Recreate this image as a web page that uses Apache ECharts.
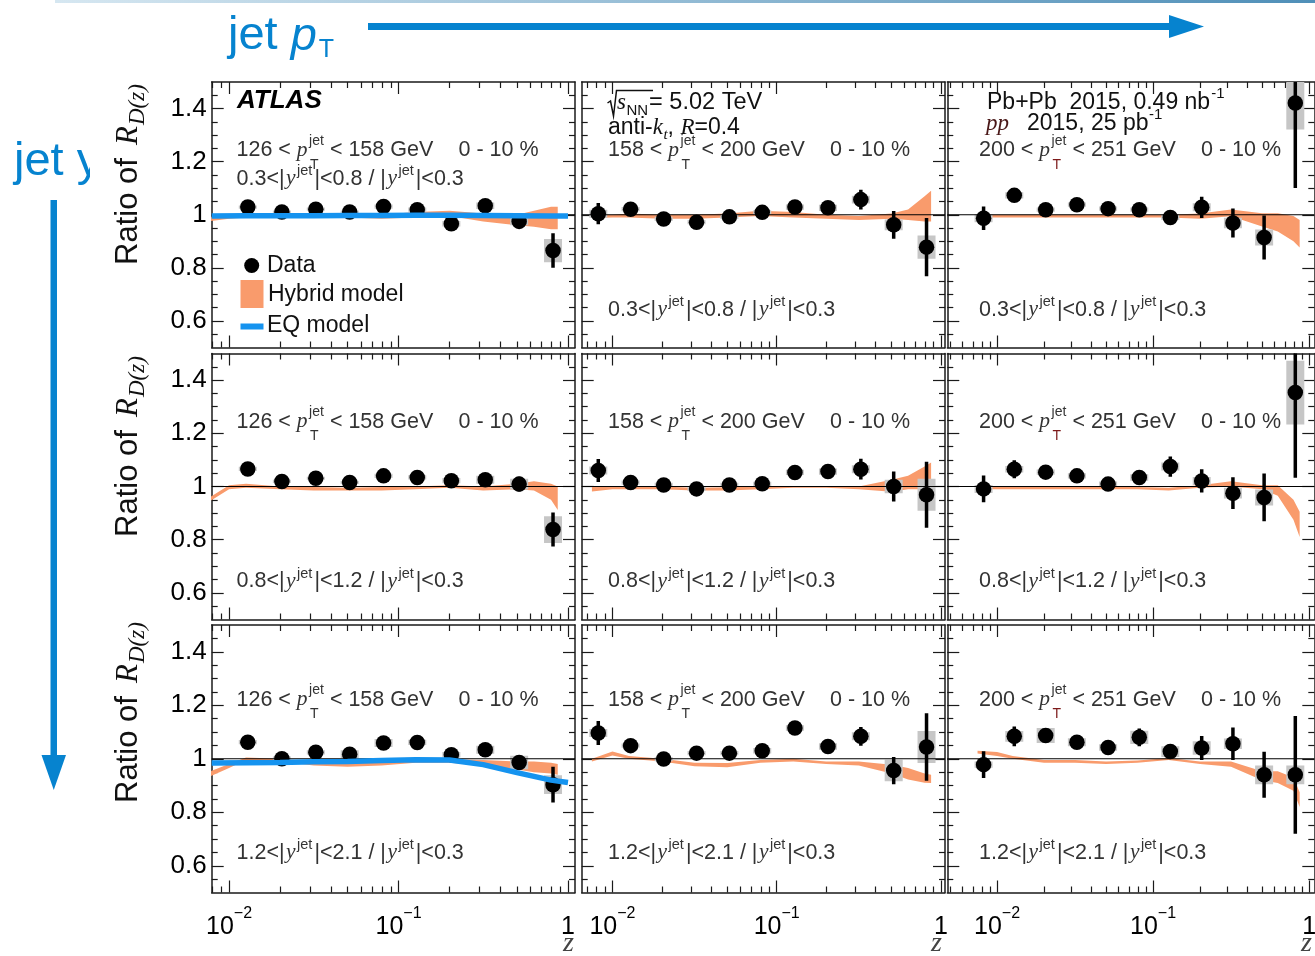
<!DOCTYPE html>
<html>
<head>
<meta charset="utf-8">
<script src="https://cdn.jsdelivr.net/npm/echarts@6/dist/echarts.min.js"></script>
<style>
  html, body { margin: 0; padding: 0; background: #fff; }
  #chart { width: 1315px; height: 956px; }
</style>
</head>
<body>
<div id="chart"></div>
<script>
// ---- z binning -------------------------------------------------------------
const zCenters = [0.0082, 0.0129, 0.0205, 0.0325, 0.0515, 0.0816, 0.129, 0.205, 0.325, 0.515, 0.816];
const zHybrid  = [0.0075, 0.01, 0.0126, 0.02, 0.0316, 0.05, 0.0794, 0.126, 0.2, 0.316, 0.5, 0.63, 0.794, 0.87];
const zEq      = [0.0079, 0.0126, 0.02, 0.0316, 0.05, 0.0794, 0.126, 0.2, 0.316, 0.5, 0.794, 1.0];

const ptBins = [['126', '158'], ['158', '200'], ['200', '251']];
const yBins = [['0.3', '0.8'], ['0.8', '1.2'], ['1.2', '2.1']];
const centrality = '0 - 10 %';
const zTicks = [0.01, 0.1, 1];
const yTicks = [0.6, 0.8, 1, 1.2, 1.4];
const yMinorTicks = [0.55, 0.65, 0.7, 0.75, 0.85, 0.9, 0.95, 1.05, 1.1, 1.15, 1.25, 1.3, 1.35, 1.45];

// ---- 0.3<|y|<0.8 / |y|<0.3 ------------------------------------------------
const ratio_p126_y03 = [null, 1.029, 1.010, 1.021, 1.010, 1.031, 1.019, 0.966, 1.034, 0.975, 0.865];
const stat_p126_y03  = [null, 0.008, 0.008, 0.008, 0.008, 0.008, 0.010, 0.010, 0.012, 0.015, 0.065];
const sys_p126_y03   = [null, 0.006, 0.006, 0.006, 0.006, 0.008, 0.008, 0.010, 0.012, 0.015, 0.044];
const hybLo_p126_y03 = [0.975, 0.985, 0.990, 0.990, 0.990, 0.990, 0.985, 0.990, 0.995, 0.975, 0.960, 0.955, 0.945, 0.945];
const hybHi_p126_y03 = [0.990, 0.997, 1.000, 1.000, 1.005, 1.000, 1.000, 1.010, 1.015, 1.005, 1.000, 1.015, 1.030, 1.030];
const eq_p126_y03    = [0.995, 0.996, 0.996, 0.996, 0.997, 0.997, 0.998, 0.998, 0.997, 0.996, 0.995, 0.995];

const ratio_p158_y03 = [1.004, 1.021, 0.984, 0.972, 0.992, 1.009, 1.029, 1.026, 1.057, 0.962, 0.878];
const stat_p158_y03  = [0.040, 0.012, 0.010, 0.010, 0.010, 0.010, 0.012, 0.015, 0.037, 0.052, 0.110];
const sys_p158_y03   = [0.015, 0.008, 0.008, 0.008, 0.008, 0.008, 0.010, 0.012, 0.015, 0.020, 0.044];
const hybLo_p158_y03 = [0.988, 0.990, 0.990, 0.985, 0.985, 0.990, 0.995, 0.990, 0.985, 0.980, 0.985, 0.980, 0.975, 0.975];
const hybHi_p158_y03 = [1.000, 1.000, 1.005, 1.000, 1.000, 1.005, 1.015, 1.010, 1.000, 0.995, 1.005, 1.020, 1.070, 1.090];

const ratio_p200_y03 = [0.987, 1.073, 1.019, 1.038, 1.023, 1.019, 0.990, 1.028, 0.969, 0.914, 1.421];
const stat_p200_y03  = [0.044, 0.025, 0.012, 0.012, 0.012, 0.012, 0.015, 0.040, 0.055, 0.083, 0.320];
const sys_p200_y03   = [0.015, 0.012, 0.008, 0.008, 0.008, 0.008, 0.010, 0.015, 0.020, 0.030, 0.100];
const hybLo_p200_y03 = [0.990, 0.990, 0.990, 0.990, 0.990, 0.990, 0.990, 0.990, 0.985, 0.994, 0.956, 0.937, 0.900, 0.877];
const hybHi_p200_y03 = [1.000, 1.000, 1.000, 1.000, 1.000, 1.000, 1.000, 1.000, 1.005, 1.020, 1.006, 1.006, 0.995, 0.980];

// ---- 0.8<|y|<1.2 / |y|<0.3 ------------------------------------------------
const ratio_p126_y08 = [null, 1.066, 1.019, 1.031, 1.015, 1.040, 1.034, 1.022, 1.025, 1.009, 0.838];
const stat_p126_y08  = [null, 0.010, 0.008, 0.008, 0.008, 0.008, 0.010, 0.010, 0.012, 0.028, 0.064];
const sys_p126_y08   = [null, 0.008, 0.006, 0.006, 0.006, 0.008, 0.008, 0.010, 0.015, 0.020, 0.050];
const hybLo_p126_y08 = [0.940, 0.990, 0.995, 0.990, 0.985, 0.985, 0.985, 0.990, 0.995, 0.985, 0.990, 0.985, 0.950, 0.912];
const hybHi_p126_y08 = [0.955, 1.005, 1.010, 1.000, 0.998, 0.995, 0.998, 1.000, 1.005, 1.000, 1.010, 1.020, 1.010, 1.000];

const ratio_p158_y08 = [1.060, 1.015, 1.006, 0.991, 1.006, 1.010, 1.053, 1.056, 1.065, 1.000, 0.969];
const stat_p158_y08  = [0.043, 0.012, 0.010, 0.010, 0.010, 0.010, 0.012, 0.015, 0.039, 0.056, 0.124];
const sys_p158_y08   = [0.015, 0.008, 0.008, 0.008, 0.008, 0.008, 0.010, 0.012, 0.015, 0.025, 0.060];
const hybLo_p158_y08 = [0.981, 0.990, 0.990, 0.990, 0.985, 0.985, 0.990, 0.995, 0.995, 0.990, 0.980, 0.990, 0.990, 0.990];
const hybHi_p158_y08 = [1.000, 1.000, 1.000, 1.000, 0.995, 0.997, 1.000, 1.002, 1.002, 1.000, 1.025, 1.040, 1.075, 1.090];

const ratio_p200_y08 = [0.991, 1.065, 1.054, 1.040, 1.009, 1.034, 1.075, 1.021, 0.975, 0.959, 1.353];
const stat_p200_y08  = [0.050, 0.034, 0.015, 0.015, 0.015, 0.025, 0.038, 0.044, 0.060, 0.090, 0.320];
const sys_p200_y08   = [0.015, 0.012, 0.010, 0.010, 0.010, 0.012, 0.015, 0.015, 0.020, 0.030, 0.120];
const hybLo_p200_y08 = [0.990, 0.990, 0.990, 0.990, 0.990, 0.990, 0.990, 0.985, 0.995, 1.000, 0.990, 0.965, 0.875, 0.810];
const hybHi_p200_y08 = [1.000, 1.000, 1.000, 1.000, 1.000, 1.000, 0.998, 0.995, 1.005, 1.020, 1.005, 1.005, 0.950, 0.905];

// ---- 1.2<|y|<2.1 / |y|<0.3 ------------------------------------------------
const ratio_p126_y12 = [null, 1.062, 1.000, 1.024, 1.017, 1.059, 1.061, 1.015, 1.034, 0.986, 0.903];
const stat_p126_y12  = [null, 0.010, 0.008, 0.008, 0.008, 0.008, 0.010, 0.010, 0.012, 0.015, 0.067];
const sys_p126_y12   = [null, 0.008, 0.008, 0.008, 0.015, 0.015, 0.010, 0.010, 0.015, 0.025, 0.035];
const hybLo_p126_y12 = [0.930, 0.965, 0.995, 0.990, 0.975, 0.970, 0.975, 0.985, 0.985, 0.975, 0.960, 0.950, 0.945, 0.940];
const hybHi_p126_y12 = [0.950, 0.980, 1.005, 1.000, 0.990, 0.985, 0.990, 0.995, 0.997, 0.995, 0.990, 0.990, 0.985, 0.980];
const eq_p126_y12    = [0.984, 0.985, 0.986, 0.989, 0.990, 0.993, 0.996, 0.995, 0.978, 0.948, 0.920, 0.911];

const ratio_p158_y12 = [1.096, 1.049, 0.999, 1.021, 1.021, 1.030, 1.115, 1.046, 1.084, 0.956, 1.044];
const stat_p158_y12  = [0.045, 0.012, 0.010, 0.010, 0.010, 0.010, 0.015, 0.015, 0.035, 0.051, 0.126];
const sys_p158_y12   = [0.015, 0.008, 0.008, 0.008, 0.008, 0.010, 0.010, 0.012, 0.015, 0.040, 0.060];
const hybLo_p158_y12 = [0.990, 1.012, 1.000, 0.990, 0.972, 0.968, 0.985, 0.990, 0.980, 0.975, 0.945, 0.922, 0.910, 0.909];
const hybHi_p158_y12 = [1.000, 1.027, 1.010, 1.000, 0.985, 0.984, 0.995, 1.000, 0.990, 0.990, 0.978, 0.965, 0.945, 0.940];

const ratio_p200_y12 = [0.978, 1.084, 1.087, 1.062, 1.042, 1.080, 1.027, 1.040, 1.056, 0.940, 0.940];
const stat_p200_y12  = [0.050, 0.037, 0.015, 0.015, 0.015, 0.033, 0.028, 0.045, 0.061, 0.086, 0.220];
const sys_p200_y12   = [0.012, 0.020, 0.028, 0.015, 0.012, 0.025, 0.020, 0.025, 0.020, 0.035, 0.035];
const hybLo_p200_y12 = [1.020, 1.010, 1.000, 0.985, 0.985, 0.980, 0.985, 0.995, 0.980, 0.970, 0.920, 0.909, 0.880, 0.820];
const hybHi_p200_y12 = [1.030, 1.025, 1.010, 0.995, 0.995, 0.990, 0.993, 1.003, 0.990, 0.990, 0.953, 0.953, 0.930, 0.875];

// ---- panel table (row = rapidity bin, col = pT bin) -------------------------
const panels = [
  { r: 0, c: 0, ratio: ratio_p126_y03, stat: stat_p126_y03, sys: sys_p126_y03, lo: hybLo_p126_y03, hi: hybHi_p126_y03, eq: eq_p126_y03 },
  { r: 0, c: 1, ratio: ratio_p158_y03, stat: stat_p158_y03, sys: sys_p158_y03, lo: hybLo_p158_y03, hi: hybHi_p158_y03 },
  { r: 0, c: 2, ratio: ratio_p200_y03, stat: stat_p200_y03, sys: sys_p200_y03, lo: hybLo_p200_y03, hi: hybHi_p200_y03 },
  { r: 1, c: 0, ratio: ratio_p126_y08, stat: stat_p126_y08, sys: sys_p126_y08, lo: hybLo_p126_y08, hi: hybHi_p126_y08 },
  { r: 1, c: 1, ratio: ratio_p158_y08, stat: stat_p158_y08, sys: sys_p158_y08, lo: hybLo_p158_y08, hi: hybHi_p158_y08 },
  { r: 1, c: 2, ratio: ratio_p200_y08, stat: stat_p200_y08, sys: sys_p200_y08, lo: hybLo_p200_y08, hi: hybHi_p200_y08 },
  { r: 2, c: 0, ratio: ratio_p126_y12, stat: stat_p126_y12, sys: sys_p126_y12, lo: hybLo_p126_y12, hi: hybHi_p126_y12, eq: eq_p126_y12 },
  { r: 2, c: 1, ratio: ratio_p158_y12, stat: stat_p158_y12, sys: sys_p158_y12, lo: hybLo_p158_y12, hi: hybHi_p158_y12 },
  { r: 2, c: 2, ratio: ratio_p200_y12, stat: stat_p200_y12, sys: sys_p200_y12, lo: hybLo_p200_y12, hi: hybHi_p200_y12 }
];

// ---- layout & style --------------------------------------------------------
const colLeft = [211.7, 581.7, 947.3];
const colWidth = [363.3, 363.3, 367];
const rowTop = [82, 353.5, 625];
const rowHeight = [265.5, 266, 267.5];
const zRange = [[0.0079, 1.1], [0.0065, 1.057], [0.0048, 1.08]];
const yRange = [0.5, 1.5];

const SANS = '"Liberation Sans", Arial, Helvetica, sans-serif';
const SERIF = '"Liberation Serif", "Times New Roman", serif';
const FRAME = '#1a1a1a';
const ORANGE = '#f99b6c';
const BLUE = '#1593ef';
const GRAY = '#c6c6c6';
const HEAD = '#0683cf';
const TXT = '#333';
const DARK = '#111';
const MAROON = '#7d1a1a';

function minorZ(r) {
  const out = [];
  for (let e = -3; e <= 0; e++) {
    for (let m = 2; m <= 9; m++) {
      const v = +(m * Math.pow(10, e)).toPrecision(3);
      if (v > r[0] && v < r[1]) out.push(v);
    }
  }
  return out;
}

// ---- text helpers (multi-font runs with sub/superscripts) -------------------
const measureCtx = document.createElement('canvas').getContext('2d');
function fontOf(p) {
  return (p.it ? 'italic ' : '') + (p.bold ? 'bold ' : '') + p.size + 'px ' + (p.serif ? SERIF : SANS);
}
function textWidth(t, size, opts) {
  measureCtx.font = fontOf(Object.assign({ size: size }, opts || {}));
  return measureCtx.measureText(t).width;
}
function run(x, base, parts, fill, defSize) {
  const els = [];
  let cx = x;
  parts.forEach(function (p) {
    if (p.gap != null) { cx += p.gap; return; }
    const q = Object.assign({ size: defSize || 21.5 }, p);
    const font = fontOf(q);
    measureCtx.font = font;
    const w = measureCtx.measureText(q.t).width;
    const px = q.at != null ? x + q.at : cx + (q.dx || 0);
    els.push({
      type: 'text', x: px, y: base + (q.dy || 0) - 0.31 * q.size, silent: true, z: q.z || 0,
      style: { text: q.t, font: font, fill: q.fill || fill, align: 'left', verticalAlign: 'middle',
               textAlign: 'left', textVerticalAlign: 'middle' }
    });
    if (!q.stay) cx = px + w;
  });
  return els;
}
function ptParts(bin, tFill) {
  return [
    { t: bin[0] + ' < ' },
    { t: 'p', serif: true, it: true },
    { t: 'jet', size: 14, dy: -12, dx: 1.5, stay: true },
    { t: 'T', size: 14, dy: 12, dx: 2.5, stay: true, fill: tFill },
    { gap: 1.5 + textWidth('jet', 14) },
    { t: ' < ' + bin[1] + ' GeV' },
    { t: centrality, at: 222 }
  ];
}
function rapParts(bin) {
  return [
    { t: bin[0] + '<|', dx: 0 },
    { t: 'y', serif: true, it: true, dx: 1.5 },
    { t: 'jet', size: 14.5, dy: -10, dx: 1.5 },
    { t: '|<' + bin[1] + ' / |', dx: 2 },
    { t: 'y', serif: true, it: true, dx: 1.5 },
    { t: 'jet', size: 14.5, dy: -10, dx: 1.5 },
    { t: '|<0.3', dx: 2 }
  ];
}

// ---- build option ------------------------------------------------------------
const option = {
  animation: false,
  backgroundColor: '#fff',
  textStyle: { fontFamily: SANS },
  grid: [], xAxis: [], yAxis: [], series: [],
  graphic: { elements: [] }
};

function xAxisDef(i, p, pos, major) {
  const r = zRange[p.c];
  const def = {
    type: 'log', logBase: 10, gridIndex: i, position: pos, min: r[0], max: r[1],
    axisLine: { show: major, onZero: false, lineStyle: { color: FRAME, width: 1.5 } },
    axisTick: { show: true, inside: true, length: major ? 12 : 6,
                customValues: major ? zTicks : minorZ(r), lineStyle: { color: FRAME, width: 1.2 } },
    axisLabel: { show: false },
    splitLine: { show: false }
  };
  if (major && pos === 'bottom' && p.r === 2) {
    def.axisLabel = {
      show: true, customValues: zTicks, margin: 13,
      formatter: function (v) {
        const e = Math.round(Math.log10(v));
        return e === 0 ? '{b|1}' : '{b|10}{s|\u2212' + (-e) + '}';
      },
      rich: {
        b: { fontSize: 25, lineHeight: 34, verticalAlign: 'bottom', fontFamily: SANS, color: '#000' },
        s: { fontSize: 16, verticalAlign: 'top', fontFamily: SANS, color: '#000' }
      }
    };
  }
  return def;
}
function yAxisDef(i, p, pos, major) {
  const def = {
    type: 'value', gridIndex: i, position: pos, min: yRange[0], max: yRange[1],
    axisLine: { show: major, onZero: false, lineStyle: { color: FRAME, width: 1.5 } },
    axisTick: { show: true, inside: true, length: major ? 12 : 6,
                customValues: major ? yTicks : yMinorTicks, lineStyle: { color: FRAME, width: 1.2 } },
    axisLabel: { show: false },
    splitLine: { show: false }
  };
  if (major && pos === 'left' && p.c === 0) {
    def.axisLabel = {
      show: true, customValues: yTicks, margin: 5, fontSize: 26, fontFamily: SANS, color: '#000',
      formatter: function (v) { return v === 1 ? '1' : v.toFixed(1); }
    };
  }
  return def;
}

panels.forEach(function (p, i) {
  option.grid.push({ left: colLeft[p.c], top: rowTop[p.r], width: colWidth[p.c], height: rowHeight[p.r],
                     containLabel: false, outerBoundsMode: 'none' });
  option.xAxis.push(xAxisDef(i, p, 'bottom', true), xAxisDef(i, p, 'bottom', false),
                    xAxisDef(i, p, 'top', true), xAxisDef(i, p, 'top', false));
  option.yAxis.push(yAxisDef(i, p, 'left', true), yAxisDef(i, p, 'left', false),
                    yAxisDef(i, p, 'right', true), yAxisDef(i, p, 'right', false));
  const ax = { xAxisIndex: 4 * i, yAxisIndex: 4 * i };

  // Hybrid model band
  const mid = Math.floor(zHybrid.length / 2);
  option.series.push(Object.assign({
    type: 'custom', name: 'Hybrid model', clip: true, silent: true,
    data: zHybrid.map(function (z, k) { return [z, p.lo[k], p.hi[k]]; }),
    renderItem: function (params, api) {
      if (params.dataIndex !== mid) return null;
      const up = zHybrid.map(function (z, k) { return api.coord([z, p.hi[k]]); });
      const dn = zHybrid.map(function (z, k) { return api.coord([z, p.lo[k]]); }).reverse();
      return { type: 'polygon', shape: { points: up.concat(dn) }, style: { fill: ORANGE } };
    }
  }, ax));

  // unity reference line
  option.series.push(Object.assign({
    type: 'line', silent: true, symbol: 'none',
    data: [[zRange[p.c][0], 1], [zRange[p.c][1], 1]],
    lineStyle: { color: '#000', width: 1.2 }
  }, ax));

  // EQ model
  if (p.eq) {
    option.series.push(Object.assign({
      type: 'line', name: 'EQ model', silent: true, symbol: 'none', clip: true,
      data: zEq.map(function (z, k) { return [z, p.eq[k]]; }),
      lineStyle: { color: BLUE, width: 5.5 }
    }, ax));
  }

  const pts = [];
  zCenters.forEach(function (z, k) {
    if (p.ratio[k] != null) pts.push([z, p.ratio[k], p.stat[k], p.sys[k]]);
  });

  // systematic boxes
  option.series.push(Object.assign({
    type: 'custom', name: 'sys', clip: true, silent: true, data: pts,
    renderItem: function (params, api) {
      const z = api.value(0), y = api.value(1), s = api.value(3);
      const a = api.coord([z, y + s]), b = api.coord([z, y - s]);
      return { type: 'rect', shape: { x: a[0] - 9, y: a[1], width: 18, height: b[1] - a[1] },
               style: { fill: GRAY } };
    }
  }, ax));

  // statistical error bars
  option.series.push(Object.assign({
    type: 'custom', name: 'stat', clip: true, silent: true, data: pts,
    renderItem: function (params, api) {
      const z = api.value(0), y = api.value(1), s = api.value(2);
      const a = api.coord([z, y + s]), b = api.coord([z, y - s]);
      return { type: 'line', shape: { x1: a[0], y1: a[1], x2: b[0], y2: b[1] },
               style: { stroke: '#000', lineWidth: 3.5 } };
    }
  }, ax));

  // data points
  option.series.push(Object.assign({
    type: 'scatter', name: 'Data', silent: true, symbol: 'circle', symbolSize: 15.5,
    data: pts.map(function (d) { return [d[0], d[1]]; }),
    itemStyle: { color: '#000', opacity: 1, borderWidth: 0 }
  }, ax));
});

// ---- annotations ---------------------------------------------------------------
const G = option.graphic.elements;
const textX = [236.5, 608, 979];
const ptBase = [157, 428.5, 706.5];
const rapBase = [316.5, 588, 859.5];

panels.forEach(function (p) {
  G.push.apply(G, run(textX[p.c], ptBase[p.r], ptParts(ptBins[p.c], p.c === 2 ? MAROON : TXT), TXT));
  const rb = (p.r === 0 && p.c === 0) ? 185.5 : rapBase[p.r];
  G.push.apply(G, run(textX[p.c], rb, rapParts(yBins[p.r]), TXT));
});

// ATLAS label
G.push.apply(G, run(237, 109, [{ t: 'ATLAS', bold: true, it: true, size: 26 }], '#000'));

// collision system / jet definition
G.push({ type: 'polyline', silent: true,
  shape: { points: [[607.5, 103], [610.5, 101], [613.5, 116], [616.5, 90.5], [653, 90.5]] },
  style: { stroke: DARK, lineWidth: 1.5, fill: null } });
G.push.apply(G, run(617, 110, [
  { t: 's', serif: true, it: true },
  { t: 'NN', size: 15, dy: 6, dx: 0.5 },
  { t: '= 5.02 TeV', dx: 1, size: 23.5 }
], DARK, 23));
G.push.apply(G, run(608, 135, [
  { t: 'anti-' },
  { t: 'k', serif: true, it: true },
  { t: 't', serif: true, it: true, size: 15, dy: 5, dx: 0.5 },
  { t: ', ' },
  { t: 'R', serif: true, it: true },
  { t: '=0.4' }
], DARK, 23));
G.push.apply(G, run(987, 110, [
  { t: 'Pb+Pb  2015, 0.49 nb' },
  { t: '-1', size: 15, dy: -11, dx: 1 }
], DARK, 23));
G.push.apply(G, run(986, 131, [
  { t: 'pp', serif: true, it: true, fill: '#4a1818' },
  { t: '2015, 25 pb', at: 41 },
  { t: '-1', size: 15, dy: -11, dx: 0.5 }
], DARK, 23));

// legend
G.push({ type: 'circle', silent: true, shape: { cx: 251.7, cy: 265.5, r: 7.5 }, style: { fill: '#000' } });
G.push.apply(G, run(267, 273, [{ t: 'Data' }], '#111', 23));
G.push({ type: 'rect', silent: true, shape: { x: 240.5, y: 280, width: 23, height: 28 }, style: { fill: ORANGE } });
G.push.apply(G, run(268, 302, [{ t: 'Hybrid model' }], '#111', 23));
G.push({ type: 'rect', silent: true, shape: { x: 240.5, y: 323.5, width: 23, height: 6 }, style: { fill: BLUE } });
G.push.apply(G, run(267, 333, [{ t: 'EQ model' }], '#111', 23));

// y-axis titles
[265, 537, 803].forEach(function (y0) {
  G.push({ type: 'group', x: 138, y: y0, rotation: Math.PI / 2, silent: true,
    children: run(0, 0, [
      { t: 'Ratio of', size: 31 },
      { t: 'R', serif: true, it: true, size: 31, at: 120 },
      { t: 'D(z)', serif: true, it: true, size: 23, dy: 7, dx: 1 }
    ], '#111') });
});

// x-axis titles
[574, 942, 1312].forEach(function (xr) {
  G.push({ type: 'text', x: xr, y: 952 - 0.31 * 28, silent: true,
    style: { text: 'z', font: 'italic 28px ' + SERIF, fill: '#444', align: 'right', verticalAlign: 'middle',
             textAlign: 'right', textVerticalAlign: 'middle' } });
});

// header: pT direction
G.push({ type: 'rect', silent: true, shape: { x: 55, y: 0, width: 1260, height: 3 },
  style: { fill: { type: 'linear', x: 0, y: 0, x2: 1, y2: 0,
    colorStops: [{ offset: 0, color: '#d6e7f1' }, { offset: 1, color: '#4f8fb8' }] } } });
G.push.apply(G, run(228, 51, [
  { t: 'jet ' },
  { t: 'p', it: true },
  { t: 'T', size: 25, dy: 7, dx: 2 }
], HEAD, 47));
G.push({ type: 'rect', silent: true, shape: { x: 368, y: 23, width: 803, height: 7 }, style: { fill: HEAD } });
G.push({ type: 'polygon', silent: true, shape: { points: [[1169, 15], [1204, 26.5], [1169, 38]] }, style: { fill: HEAD } });

// header: rapidity direction (text runs under the plot area edge)
G.push.apply(G, run(14, 177, [{ t: 'jet y' }], HEAD, 47));
G.push({ type: 'rect', silent: true, z: 10, shape: { x: 90, y: 120, width: 20, height: 80 }, style: { fill: '#fff' } });
G.push({ type: 'rect', silent: true, shape: { x: 50.5, y: 200, width: 6.5, height: 556 }, style: { fill: HEAD } });
G.push({ type: 'polygon', silent: true, shape: { points: [[41.5, 755], [53.75, 790], [66, 755]] }, style: { fill: HEAD } });

const chart = echarts.init(document.getElementById('chart'), null, { renderer: 'canvas' });
chart.setOption(option);
</script>
</body>
</html>
